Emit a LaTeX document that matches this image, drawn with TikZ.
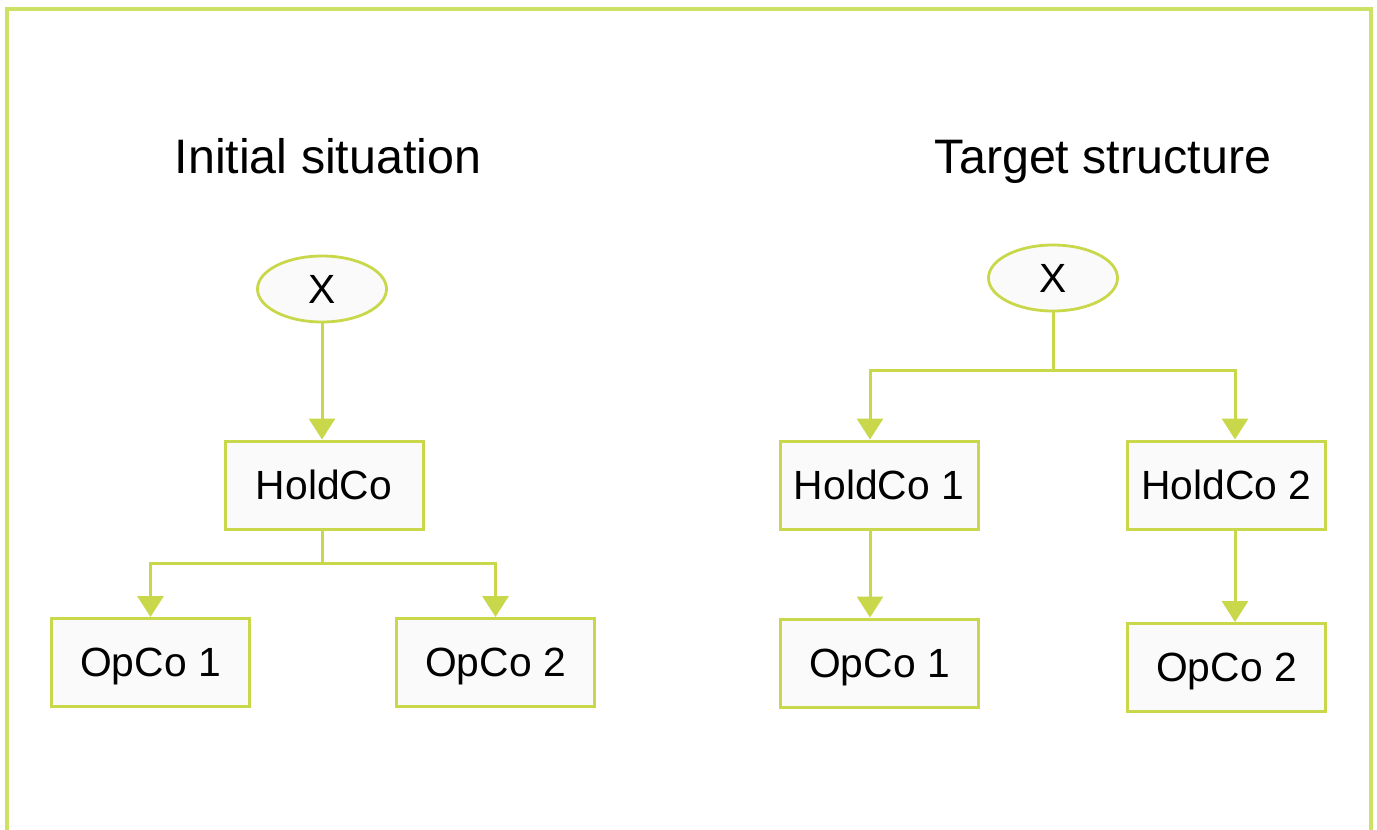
\documentclass[tikz,border=0pt]{standalone}
\usepackage{fontspec}
\setmainfont{Liberation Sans}
\usetikzlibrary{arrows.meta,shapes.geometric}
\definecolor{lineg}{HTML}{C8D84A}
\definecolor{frameg}{HTML}{CBE264}
\definecolor{boxfill}{HTML}{FAFAFA}
\tikzset{
  box/.style={draw=lineg, line width=1.5pt, fill=boxfill, inner sep=0pt,
    minimum width=99pt, minimum height=44pt, text depth=0pt,
    font=\fontsize{20.4}{24}\selectfont},
  oval/.style={ellipse, draw=lineg, line width=1.4pt, fill=boxfill, inner sep=0pt,
    minimum width=64.5pt, minimum height=33pt, text depth=0pt,
    font=\fontsize{20.4}{24}\selectfont},
  ttl/.style={anchor=base, inner sep=0pt, font=\fontsize{24.2}{28}\selectfont},
  conn/.style={draw=lineg, line width=1.5pt},
  arr/.style={conn, -{Triangle[width=13pt,length=10.5pt]}, color=lineg},
}
\begin{document}
\begin{tikzpicture}[x=0.5pt,y=-0.5pt]
\useasboundingbox (0,0) rectangle (1377,830);
\fill[white] (0,0) rectangle (1377,830);
% frame
\draw[frameg, line width=2pt] (7,845) -- (7,9) -- (1371,9) -- (1371,845);

% titles
\node[ttl] (t1) at (328,173) {Initial situation};
\node[ttl] (t2) at (1103,173) {Target structure};

% left: initial situation
\node[oval] (xl) at (322,289) {X};
\node[box] (hl) at (324,485) {HoldCo};
\node[box] (o1l) at (150.5,662.5) {OpCo 1};
\node[box] (o2l) at (495.5,662.5) {OpCo 2};
\coordinate (jl) at (322,563);
\draw[arr] (xl.south) -- (xl.south |- hl.north);
\draw[conn] (hl.south -| jl) -- (jl);
\draw[arr] (jl) -| (o1l.north);
\draw[arr] (jl) -| (o2l.north);

% right: target structure
\node[oval] (xr) at (1053,278) {X};
\node[box] (h1) at (879,485) {HoldCo 1};
\node[box] (h2) at (1226.5,485) {HoldCo 2};
\node[box] (o1r) at (879.5,663) {OpCo 1};
\node[box] (o2r) at (1226.5,667.5) {OpCo 2};
\coordinate (jr) at (1053,370);
\coordinate (a1) at (870,0);
\coordinate (a2) at (1235,0);
\draw[conn] (xr.south) -- (jr);
\draw[arr] (jr) -| (a1 |- h1.north);
\draw[arr] (jr) -| (a2 |- h2.north);
\draw[arr] (a1 |- h1.south) -- (a1 |- o1r.north);
\draw[arr] (a2 |- h2.south) -- (a2 |- o2r.north);
\end{tikzpicture}
\end{document}
